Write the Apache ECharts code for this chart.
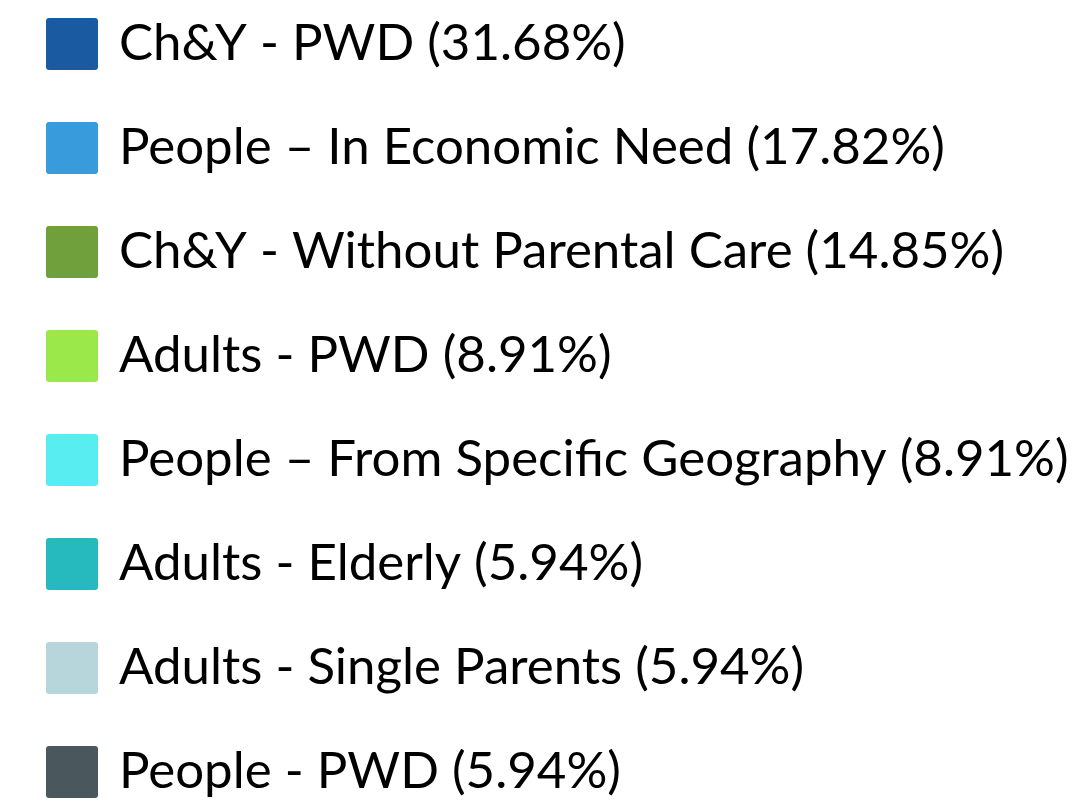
<!DOCTYPE html>
<html>
<head>
<meta charset="utf-8">
<script src="https://cdn.jsdelivr.net/npm/echarts@6/dist/echarts.min.js"></script>
<style>
    html, body { margin: 0; padding: 0; background: #fff; }
    #legendChart { width: 1076px; height: 805px; }
</style>
</head>
<body>
<div id="legendChart"></div>
<script>
// beneficiary groups (counts read back from the percentages, total 101)
var categories = [
    'Ch&Y - PWD',
    'People \u2013 In Economic Need',
    'Ch&Y - Without Parental Care',
    'Adults - PWD',
    'People \u2013 From Specific Geography',
    'Adults - Elderly',
    'Adults - Single Parents',
    'People - PWD'
]
var counts = [32, 18, 15, 9, 9, 6, 6, 6]
var colors = ['#1a5aa0', '#389bdc', '#6fa03b', '#9be84b', '#58edf0', '#26babf', '#b7d6db', '#4a575c']

var total = counts.reduce(function (a, b) { return a + b }, 0)

var chart = echarts.init(document.getElementById('legendChart'))
chart.setOption({
    animation: false,
    legend: {
        orient: 'vertical',
        left: 46,
        top: 18,
        height: 800,
        padding: 0,
        itemWidth: 52,
        itemHeight: 52,
        itemGap: 52,
        icon: 'path://M3,0H49Q52,0 52,3V49Q52,52 49,52H3Q0,52 0,49V3Q0,0 3,0Z',
        selectedMode: false,
        textStyle: {
            fontFamily: 'Lato',
            fontSize: 51,
            lineHeight: 40,
            color: '#000',
            padding: [12, 0, 0, 16]
        },
        formatter: function (name) {
            var i = categories.indexOf(name)
            return name + ' (' + (counts[i] / total * 100).toFixed(2) + '%)'
        },
        data: categories
    },
    series: [
        {
            name: 'Beneficiaries',
            type: 'pie',
            radius: [0, 0],
            center: [-100, -100],
            label: { show: false },
            labelLine: { show: false },
            data: categories.map(function (c, i) {
                return { name: c, value: counts[i], itemStyle: { color: colors[i] } }
            })
        }
    ]
})
</script>
</body>
</html>
